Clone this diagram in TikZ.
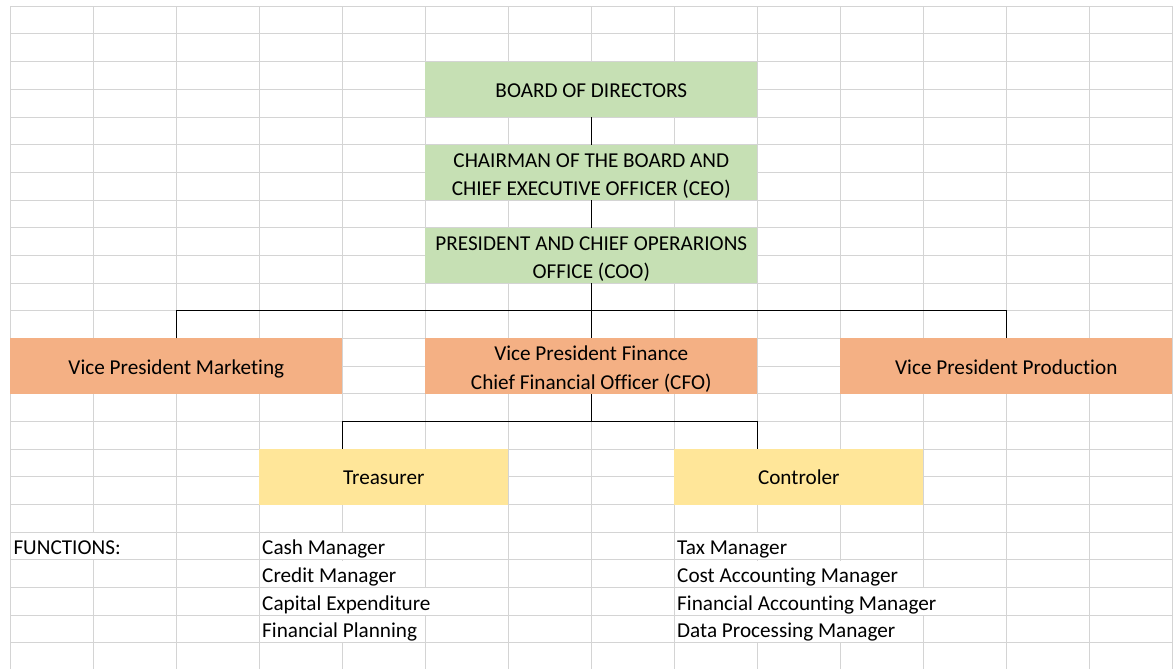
\documentclass[tikz,border=0pt]{standalone}
\usepackage{fontspec}
\setmainfont{Carlito}[Ligatures=NoCommon]
\usetikzlibrary{calc}
\definecolor{gridgray}{HTML}{D4D4D4}
\definecolor{boxgreen}{HTML}{C6E0B4}
\definecolor{boxorange}{HTML}{F4B084}
\definecolor{boxyellow}{HTML}{FFE699}
\begin{document}
\begin{tikzpicture}[x=1pt,y=-1pt,
  gridline/.style={draw=gridgray,line width=1pt},
  link/.style={draw=black,line width=1.2pt},
  box/.style={inner sep=0pt,minimum height=55.36pt},
  greenbox/.style={box,fill=boxgreen,minimum width=332pt},
  orangebox/.style={box,fill=boxorange,minimum width=332pt},
  yellowbox/.style={box,fill=boxyellow,minimum width=249pt},
  boxtext/.style={anchor=base,inner sep=0pt,font=\fontsize{21.2}{28}\selectfont},
  cell/.style={anchor=base west,inner sep=0pt,font=\fontsize{21.2}{28}\selectfont}]
\useasboundingbox (0,0) rectangle (1176,669);
\fill[white] (0,0) rectangle (1176,669);
% sheet grid
\begin{scope}
\clip (0,0) rectangle (1176,669);
\foreach \k in {0,...,24}
  \draw[gridline] (10.3,{6.3+27.68*\k}) -- (1172.3,{6.3+27.68*\k});
\foreach \j in {0,...,14}
  \draw[gridline] ({10.3+83*\j},6.3) -- ({10.3+83*\j},672);
\end{scope}
% cell borders hidden by overflowing text in rows 19-22
\foreach \x/\k in {93.3/19,342.3/19,757.3/19,
                   342.3/20,757.3/20,840.3/20,
                   342.3/21,425.3/21,757.3/21,840.3/21,923.3/21,
                   342.3/22,757.3/22,840.3/22}
  \fill[white] ({\x-1},{6.3+27.68*\k+0.7}) rectangle ({\x+1},{6.3+27.68*(\k+1)-0.7});
% boxes
\node[greenbox] (board) at (591.3,89.34) {};
\node[greenbox] (chair) at (591.3,172.38) {};
\node[greenbox] (pres) at (591.3,255.42) {};
\node[orangebox] (vpm) at (176.3,366.14) {};
\node[orangebox] (vpf) at (591.3,366.14) {};
\node[orangebox] (vpp) at (1006.3,366.14) {};
\node[yellowbox] (tre) at (383.8,476.86) {};
\node[yellowbox] (ctl) at (798.8,476.86) {};
% box captions
\node[boxtext] (board-a) at ($(board.center)+(0,8)$) {BOARD OF DIRECTORS};
\node[boxtext] (chair-a) at ($(chair.center)+(0,-5.2)$) {CHAIRMAN OF THE BOARD AND};
\node[boxtext] (chair-b) at ($(chair.center)+(0,22.9)$) {CHIEF EXECUTIVE OFFICER (CEO)};
\node[boxtext] (pres-a) at ($(pres.center)+(0,-5.2)$) {PRESIDENT AND CHIEF OPERARIONS};
\node[boxtext] (pres-b) at ($(pres.center)+(0,22.9)$) {OFFICE (COO)};
\node[boxtext] (vpm-a) at ($(vpm.center)+(0,8.5)$) {Vice President Marketing};
\node[boxtext] (vpf-a) at ($(vpf.center)+(0,-5.2)$) {Vice President Finance};
\node[boxtext] (vpf-b) at ($(vpf.center)+(0,22.9)$) {Chief Financial Officer (CFO)};
\node[boxtext] (vpp-a) at ($(vpp.center)+(0,8.5)$) {Vice President Production};
\node[boxtext] (tre-a) at ($(tre.center)+(0,8)$) {Treasurer};
\node[boxtext] (ctl-a) at ($(ctl.center)+(0,8)$) {Controler};
% bus points
\coordinate (busl) at (176.3,310.78);
\coordinate (busr) at (1006.3,310.78);
\coordinate (finl) at (342.3,421.5);
\coordinate (finr) at (757.3,421.5);
% connectors
\draw[link] (board.south) -- (chair.north);
\draw[link] (chair.south) -- (pres.north);
\draw[link] (pres.south) -- (vpf.north);
\draw[link] (vpm.north) -- (busl) -- (busr) -- (vpp.north);
\draw[link] (vpf.south) -- (vpf.south |- finl);
\draw[link] (tre.north -| finl) -- (finl) -- (finr) -- (ctl.north -| finr);
% function lists
\node[cell] (fn) at (13.3,554.9) {FUNCTIONS:};
\node[cell] (t1) at (262,554.9) {Cash Manager};
\node[cell] (t2) at (262,582.6) {Credit Manager};
\node[cell] (t3) at (262,610.3) {Capital Expenditure};
\node[cell] (t4) at (262,637.9) {Financial Planning};
\node[cell] (c1) at (677,554.9) {Tax Manager};
\node[cell] (c2) at (677,582.6) {Cost Accounting Manager};
\node[cell] (c3) at (677,610.3) {Financial Accounting Manager};
\node[cell] (c4) at (677,637.9) {Data Processing Manager};
\end{tikzpicture}
\end{document}
